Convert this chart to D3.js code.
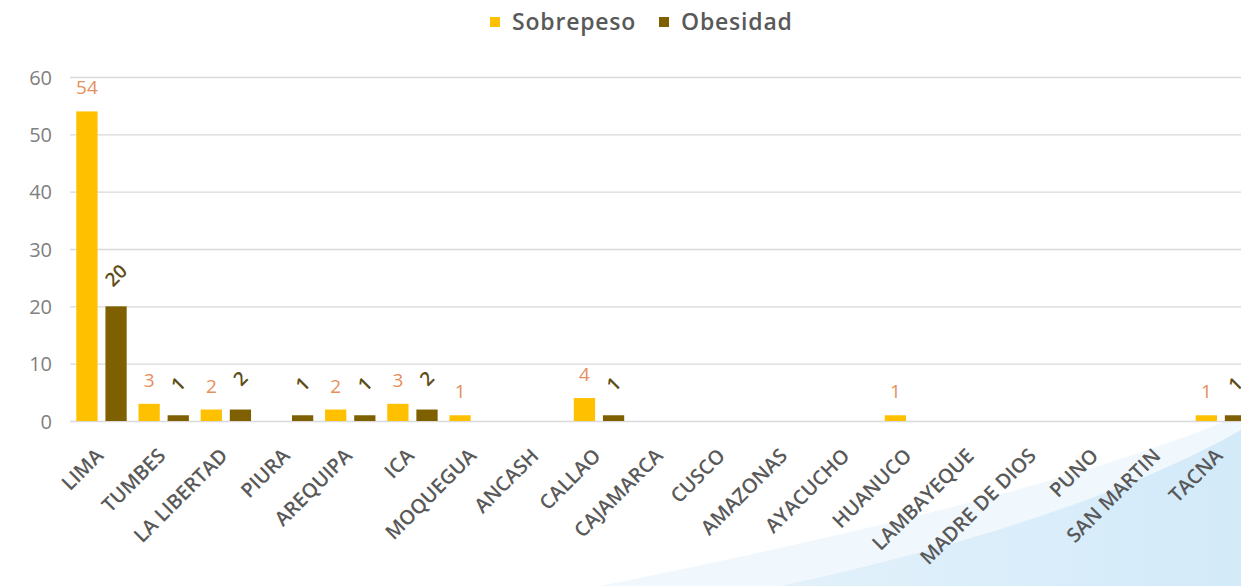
<!DOCTYPE html>
<html>
<head>
<meta charset="utf-8">
<script src="https://cdn.jsdelivr.net/npm/d3@7"></script>
<style>
  html, body { margin: 0; padding: 0; background: #ffffff; overflow: hidden; }
  svg { display: block; }
  svg text { font-family: "Open Sans", "Noto Sans", sans-serif; }
</style>
</head>
<body>
<svg id="chart" width="1241" height="586"></svg>
<script>
const categories = ["LIMA","TUMBES","LA LIBERTAD","PIURA","AREQUIPA","ICA","MOQUEGUA","ANCASH","CALLAO","CAJAMARCA","CUSCO","AMAZONAS","AYACUCHO","HUANUCO","LAMBAYEQUE","MADRE DE DIOS","PUNO","SAN MARTIN","TACNA"];
const sobrepeso = [54,3,2,0,2,3,1,0,4,0,0,0,0,1,0,0,0,0,1];
const obesidad  = [20,1,2,1,1,2,0,0,1,0,0,0,0,0,0,0,0,0,1];
const seriesNames = ["Sobrepeso","Obesidad"];
const yTicks = [0,10,20,30,40,50,60];

const colors = { Sobrepeso: "#FFC000", Obesidad: "#7F6000" };
const labelColors = { Sobrepeso: "#E58F5C", Obesidad: "#5E4D18" };
const FONT = '"Open Sans", "Noto Sans", sans-serif';

const svg = d3.select("#chart");

// background decoration (light blue swoosh)
const defs = svg.append("defs");
const grad = defs.append("linearGradient").attr("id","swoosh").attr("x1","0").attr("y1","0").attr("x2","1").attr("y2","0");
grad.append("stop").attr("offset","0").attr("stop-color","#e2f1fb");
grad.append("stop").attr("offset","1").attr("stop-color","#d3eaf9");
const bg = svg.append("g");
bg.append("path")
  .attr("d","M 600 586 C 800 545, 1060 490, 1241 415 L 1241 586 Z")
  .attr("fill","#f1f8fd");
bg.append("path")
  .attr("d","M 780 586 C 900 560, 1100 510, 1241 430 L 1241 586 Z")
  .attr("fill","url(#swoosh)");

const y = d3.scaleLinear().domain([0,60]).range([421,77]);
const x = d3.scaleBand().domain(categories).range([70.4,1252]).paddingInner(0.19).paddingOuter(0.095);
const xs = d3.scaleBand().domain(seriesNames).range([0,x.bandwidth()]).paddingInner(0.27);

// gridlines
const grid = svg.append("g")
  .attr("transform","translate(70,0)")
  .call(d3.axisLeft(y).tickValues(yTicks).tickSize(-1200).tickFormat(""));
grid.select(".domain").remove();
grid.selectAll("line").attr("stroke","#d9d9d9").attr("stroke-width",1.3);

// y axis labels
const yAxis = svg.append("g")
  .attr("transform","translate(52,0)")
  .call(d3.axisLeft(y).tickValues(yTicks).tickSize(0).tickPadding(0))
  .attr("font-family", FONT);
yAxis.select(".domain").remove();
yAxis.selectAll("text").attr("fill","#808080").style("font-size","20px").attr("dy","0.35em");

// bars
const data = categories.map((c,i)=>({cat:c, values:[{s:"Sobrepeso", v:sobrepeso[i]},{s:"Obesidad", v:obesidad[i]}]}));
const groups = svg.append("g").selectAll("g").data(data).join("g")
  .attr("transform", d => `translate(${x(d.cat)},0)`);
groups.selectAll("rect").data(d=>d.values).join("rect")
  .attr("x", d => xs(d.s))
  .attr("y", d => y(d.v))
  .attr("width", xs.bandwidth())
  .attr("height", d => y(0) - y(d.v))
  .attr("fill", d => colors[d.s]);

// data labels
groups.selectAll("text.lbl").data(d=>d.values.filter(v=>v.v>0)).join("text")
  .attr("class","lbl")
  .attr("fill", d => labelColors[d.s])
  .style("font-size","19px")
  .style("font-weight", d => d.s === "Sobrepeso" ? "400" : "600")
  .attr("text-anchor","middle")
  .attr("transform", d => {
    const cx = xs(d.s) + xs.bandwidth()/2;
    if (d.s === "Sobrepeso") return `translate(${cx},${y(d.v)-17})`;
    return `translate(${cx},${y(d.v)-31}) rotate(-45)`;
  })
  .attr("dy", d => d.s === "Sobrepeso" ? "0" : "0.35em")
  .text(d => d.v);

// x axis category labels
const xAxis = svg.append("g")
  .attr("transform","translate(0,421)")
  .call(d3.axisBottom(x).tickSize(0).tickPadding(0))
  .attr("font-family", FONT);
xAxis.select(".domain").remove();
xAxis.selectAll("text")
  .attr("fill","#595959")
  .style("font-size","20px")
  .style("font-weight","600")
  .attr("text-anchor","end")
  .attr("y",0).attr("dy","0")
  .attr("transform","translate(3,36) rotate(-45)");

// legend
const legend = svg.append("g");
const legendX = [490, 659];
seriesNames.forEach((s,i)=>{
  legend.append("rect").attr("x",legendX[i]).attr("y",17).attr("width",10).attr("height",10).attr("fill",colors[s]);
  legend.append("text").attr("x",legendX[i]+22).attr("y",22).attr("dy","0.35em")
    .attr("fill","#595959").style("font-size","23px").style("font-weight","600")
    .style("letter-spacing","0.8px")
    .text(s);
});
</script>
</body>
</html>
